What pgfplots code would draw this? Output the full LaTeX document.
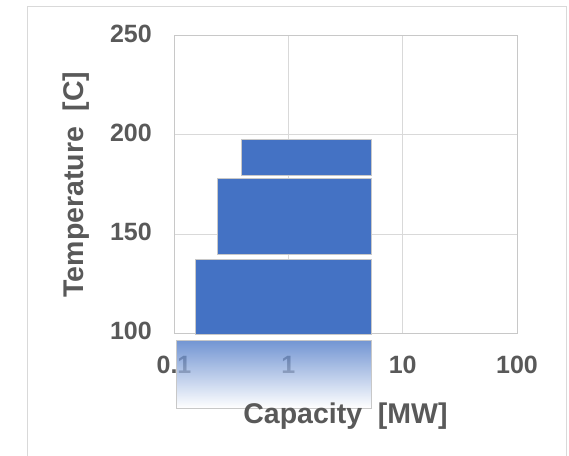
\documentclass[border=0pt]{standalone}
\usepackage{pgfplots}
\pgfplotsset{compat=1.18}
\usepackage{fontspec}
\setmainfont{Liberation Sans}
\definecolor{barblue}{HTML}{4472C4}
\definecolor{txt}{HTML}{595959}
\definecolor{gridc}{HTML}{D9D9D9}
\definecolor{edgec}{HTML}{C8C8C8}
\begin{document}
\begin{tikzpicture}[x=1pt,y=1pt]
\useasboundingbox (0,0) rectangle (569,455);
\draw[gridc, line width=1pt] (27,-20) rectangle (566,448);
\begin{axis}[
  at={(174pt,122pt)}, anchor=south west,
  scale only axis, width=343pt, height=297pt,
  xmode=log, xmin=0.1, xmax=100, ymin=100, ymax=250,
  xtick={0.1,1,10,100}, xticklabels={0.1,1,10,100},
  ytick={100,150,200,250}, yticklabels={100,150,200,250},
  minor tick length=0pt, minor tick num=0,
  grid=major, major grid style={gridc, line width=1pt},
  axis line style={edgec, line width=1pt},
  major tick length=0pt,
  tick label style={font=\bfseries\fontsize{25}{30}\selectfont, text=txt, inner sep=0pt},
  xticklabel style={yshift=-23pt},
  yticklabel style={xshift=-22pt, yshift=2pt},
  xlabel={Capacity~ [MW]},
  ylabel={Temperature~ [C]},
  label style={font=\bfseries\fontsize{28.5}{34}\selectfont, text=txt},
  xlabel style={at={(axis description cs:0.5,-0.279)}, anchor=center},
  ylabel style={at={(axis description cs:-0.286,0.5)}, anchor=center},
  clip=false,
]
\addplot[fill=barblue, draw=edgec, line width=1pt] coordinates {(0.153,99) (5.3,99) (5.3,137.2) (0.153,137.2)} -- cycle;
\addplot[fill=barblue, draw=edgec, line width=1pt] coordinates {(0.24,139.7) (5.3,139.7) (5.3,178.1) (0.24,178.1)} -- cycle;
\addplot[fill=barblue, draw=edgec, line width=1pt] coordinates {(0.393,179.6) (5.3,179.6) (5.3,197.8) (0.393,197.8)} -- cycle;
\addplot[top color=barblue, bottom color=white, fill opacity=0.75, draw=edgec, line width=1pt] coordinates {(0.1056,62) (5.3,62) (5.3,96.1) (0.1056,96.1)} -- cycle;
\end{axis}
\end{tikzpicture}
\end{document}
